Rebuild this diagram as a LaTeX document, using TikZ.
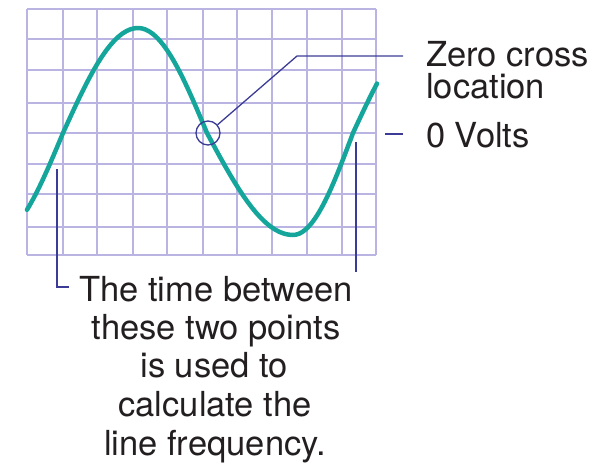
\documentclass[tikz,border=0pt]{standalone}
\usepackage{fontspec}
\setmainfont{TeX Gyre Heros}
\definecolor{gridc}{RGB}{185,180,225}
\definecolor{wavec}{RGB}{20,165,155}
\definecolor{leadc}{RGB}{60,60,150}
\definecolor{txtc}{RGB}{35,31,32}
\begin{document}
\begin{tikzpicture}[x=1pt,y=-1pt,
  gridline/.style={gridc,line width=1.3pt},
  wave/.style={wavec,line width=4.5pt,line cap=round,line join=round},
  leader/.style={leadc,line width=1.3pt},
  lbl/.style={txtc,inner sep=0pt,font=\fontsize{34.5}{32}\selectfont}]
\useasboundingbox (0,0) rectangle (603,463);
% grid
\foreach \x in {27,63,97,133,167,203,237,272,307,342,376}
  \draw[gridline] (\x,9) -- (\x,255);
\foreach \y in {9,39,70,103,133,164,194,227,255}
  \draw[gridline] (27,\y) -- (376,\y);
% wave
\draw[wave] plot[domain=-47:0,samples=12,variable=\t] ({63+\t*36/47},{133-105*sin(\t)})
  -- plot[domain=0:90,samples=20,variable=\t] ({63+\t*75/90},{133-105*sin(\t)})
  -- plot[domain=90:180,samples=20,variable=\t] ({138+(\t-90)*69/90},{133-105*sin(\t)})
  -- plot[domain=180:270,samples=20,variable=\t] ({207+(\t-180)*86/90},{133-102*sin(\t)})
  -- plot[domain=270:360,samples=20,variable=\t] ({293+(\t-270)*60/90},{133-102*sin(\t)})
  -- plot[domain=360:389,samples=8,variable=\t] ({353+(\t-360)*24/29},{133-102*sin(\t)});
% zero-cross marker
\node[leadc,draw,circle,line width=1.3pt,minimum size=24pt,inner sep=0pt] (zc) at (208,133) {};
\coordinate (bend) at (297,56);
\coordinate (zl) at (403,56);
\draw[leader] (zc) -- (bend) -- (zl);
\node[lbl,anchor=base west] (zero) at (426,66) {Zero cross};
\node[lbl,anchor=base west] (loc) at (426,98) {location};
% 0 volts
\coordinate (vt1) at (385,134);
\coordinate (vt2) at (403,134);
\draw[leader] (vt1) -- (vt2);
\node[lbl,anchor=base west] (volts) at (426,147) {0 Volts};
% time markers
\coordinate (lp) at (57,169);
\coordinate (lt) at (69,287);
\draw[leader] (lp) |- (lt);
\coordinate (rp) at (356,142);
\coordinate (rb) at (356,272);
\draw[leader] (rp) -- (rb);
\node[lbl,anchor=base] (t1) at (216,301) {The time between};
\node[lbl,anchor=base] (t2) at (216,339) {these two points};
\node[lbl,anchor=base] (t3) at (214,377) {is used to};
\node[lbl,anchor=base] (t4) at (215,416) {calculate the};
\node[lbl,anchor=base] (t5) at (215,455) {line frequency.};
\end{tikzpicture}
\end{document}
